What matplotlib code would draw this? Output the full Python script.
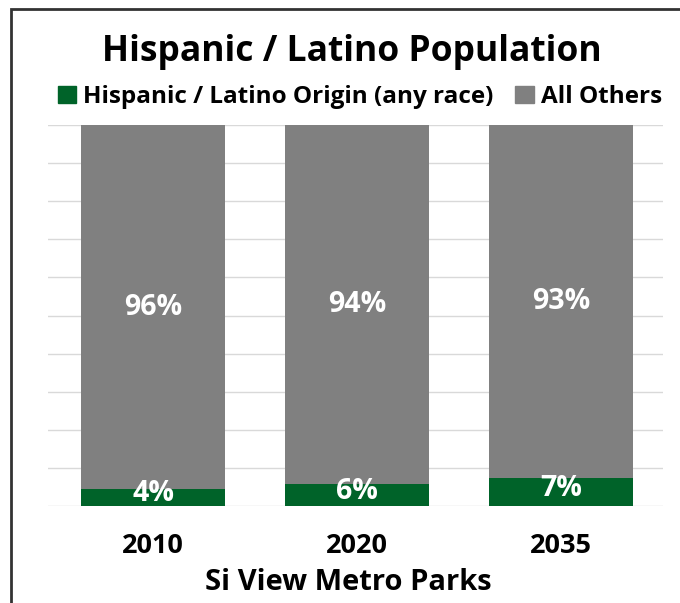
import matplotlib
matplotlib.use("Agg")
import matplotlib.pyplot as plt
from matplotlib.patches import Rectangle, Patch

plt.rcParams["font.family"] = ["Open Sans", "DejaVu Sans"]
plt.rcParams["font.weight"] = "bold"

# share of population (%) by year
years = ["2010", "2020", "2035"]
hispanic = [4.4, 5.8, 7.3]
others = [100 - v for v in hispanic]

GREEN = "#006329"
GREY = "#808080"
GRID = "#D9D9D9"

fig = plt.figure(figsize=(6.8, 6.03), dpi=100)
ax = fig.add_axes([48 / 680, 1 - 506 / 603, (663 - 48) / 680, (506 - 125) / 603])

x = range(len(years))
b1 = ax.bar(x, hispanic, width=0.71, color=GREEN, zorder=3)
b2 = ax.bar(x, others, width=0.71, bottom=hispanic, color=GREY, zorder=3)

for rect, v in zip(b1, hispanic):
    ax.text(rect.get_x() + rect.get_width() / 2, v / 2 + 1.0, f"{v:.0f}%",
            ha="center", va="center", color="white", fontsize=20.5, fontweight="bold", zorder=4)
for rect, v, base in zip(b2, others, hispanic):
    ax.text(rect.get_x() + rect.get_width() / 2, base + v / 2, f"{v:.0f}%",
            ha="center", va="center", color="white", fontsize=20.5, fontweight="bold", zorder=4)

ax.set_xlim(-0.515, 2.5)
ax.set_ylim(0, 100)
ax.set_yticks(range(0, 101, 10))
ax.yaxis.grid(True, color=GRID, lw=1.0, zorder=0)
ax.tick_params(axis="y", left=False, labelleft=False)
ax.set_xticks(list(x))
ax.set_xticklabels(years, fontsize=19.5, fontweight="bold")
ax.tick_params(axis="x", bottom=False, pad=16)
for s in ax.spines.values():
    s.set_visible(False)
ax.set_xlabel("Si View Metro Parks", fontsize=21, fontweight="bold")
ax.xaxis.set_label_coords(0.489, -0.2, transform=ax.transAxes)
ax.xaxis.label.set_va("center")

fig.text(0.517, 1 - 52 / 603, "Hispanic / Latino Population", ha="center", va="center",
         fontsize=25.5, fontweight="bold")

handles = [Patch(color=GREEN, label="Hispanic / Latino Origin (any race)"),
           Patch(color=GREY, label="All Others")]
fig.legend(handles=handles, loc="center", bbox_to_anchor=(0.529, 1 - 97 / 603), ncol=2,
           frameon=False, handlelength=0.75, handleheight=0.75,
           handletextpad=0.3, columnspacing=0.9, prop={"weight": "bold", "size": 17.5})

# outer frame, running off the right and bottom edges
fig.patches.append(Rectangle((11 / 680, -0.05), 1.2, 1 - 9.5 / 603 + 0.05,
                             transform=fig.transFigure, fill=False,
                             edgecolor="#333333", lw=2.0))

fig.savefig("out.png", dpi=100)
